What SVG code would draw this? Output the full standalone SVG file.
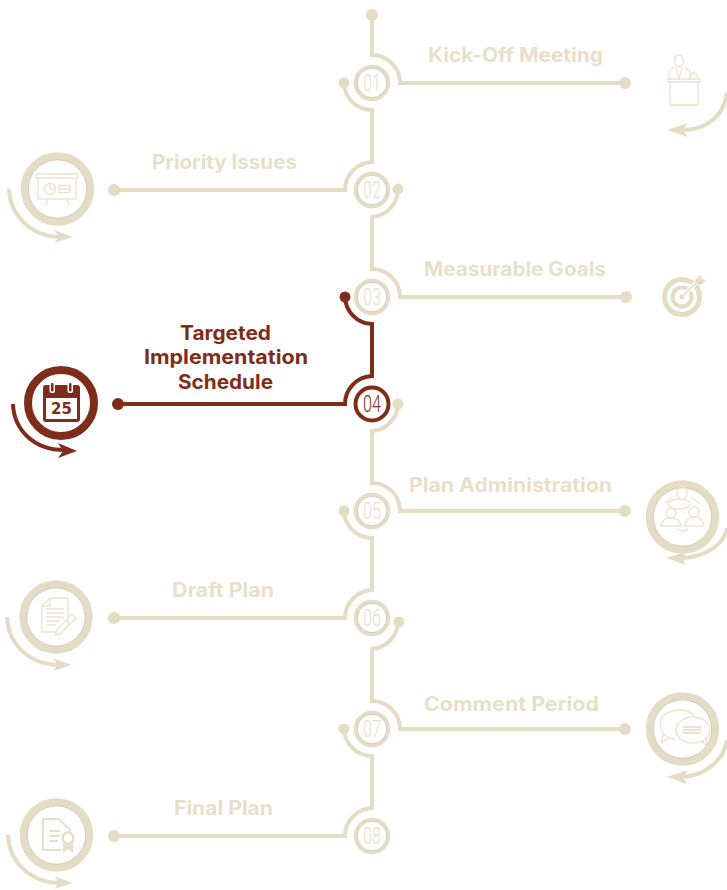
<svg xmlns="http://www.w3.org/2000/svg" width="727" height="890" viewBox="0 0 727 890">
<style>
text{font-family:"Inter","Liberation Sans",sans-serif}
.l{font-size:19.5px;font-weight:700;fill:#e8dfc9;text-anchor:middle}
.ld{font-size:19.5px;font-weight:700;fill:#7d2d1a;text-anchor:middle}
.n{font-family:"Roboto","Liberation Sans",sans-serif;font-size:23px;font-weight:300;fill:#e6ddc8;text-anchor:middle}
.nd{fill:#7d2d1a;font-weight:300}
.w{fill:none;stroke:#e5dcc5;stroke-width:4}
.wd{fill:none;stroke:#7d2d1a;stroke-width:4}
.dot{fill:#e5dcc5}
.dotd{fill:#7d2d1a}
.rg{fill:#fff;stroke:#e5dcc5;stroke-width:3.5}
.rgi{fill:none;stroke:#c2baa8;stroke-width:.7}
.bg{fill:#fff;stroke:#e5dcc5;stroke-width:7.5}
.arr{fill:none;stroke:#e5dcc5;stroke-width:4}
.ic{fill:none;stroke:#ece4d2;stroke-width:1.4}
.icb{fill:none;stroke:#e8dfca;stroke-width:2}
</style>
<g id="connectors">
<path class="w" d="M372 15V55A28 28 0 0 1 400 83H625"/>
<path class="w" d="M344 83A28 28 0 0 0 372 110V162A28 28 0 0 0 345 190H114"/>
<path class="w" d="M398 189A28 28 0 0 1 372 217V269A28 28 0 0 1 400 297H626"/>
<path class="wd" d="M345 297A28 28 0 0 0 372 324V376A28 28 0 0 0 345 404H118"/>
<path class="w" d="M398 404A28 28 0 0 1 372 431V483A28 28 0 0 1 400 511H625"/>
<path class="w" d="M344 511A28 28 0 0 0 372 538V590A28 28 0 0 0 345 618H114"/>
<path class="w" d="M398 622A28 28 0 0 1 372 649V701A28 28 0 0 1 400 729H625"/>
<path class="w" d="M344 729A28 28 0 0 0 372 756V808A28 28 0 0 0 345 836H114"/>
<circle class="dot" cx="372" cy="15" r="6"/>
<circle class="dot" cx="625" cy="83" r="6"/><circle class="dot" cx="344" cy="83" r="5.5"/>
<circle class="dot" cx="114" cy="190" r="6"/><circle class="dot" cx="398" cy="189" r="5.5"/>
<circle class="dot" cx="626" cy="297" r="6"/><circle class="dotd" cx="345" cy="297" r="5.5"/>
<circle class="dotd" cx="118" cy="404" r="6"/><circle class="dot" cx="398" cy="404" r="5.5"/>
<circle class="dot" cx="625" cy="511" r="6"/><circle class="dot" cx="344" cy="511" r="5.5"/>
<circle class="dot" cx="114" cy="618" r="6"/><circle class="dot" cx="399" cy="622" r="5.5"/>
<circle class="dot" cx="625" cy="729" r="6"/><circle class="dot" cx="344" cy="729" r="5.5"/>
<circle class="dot" cx="114" cy="836" r="6"/>
</g>
<g id="step-01">
<circle class="rg" cx="372" cy="83" r="16.500"/><circle class="rgi" cx="372" cy="83" r="14.700"/>
<text class="n" x="372" y="91" textLength="18" lengthAdjust="spacingAndGlyphs">01</text>
<text class="l" x="515.500" y="62" textLength="175" lengthAdjust="spacingAndGlyphs">Kick-Off Meeting</text>
<g class="ic"><ellipse cx="679" cy="61" rx="4.500" ry="6"/><path d="M674 67L669 71V80M684 67L690 71V80M676 68L679 79L682 68M668 79H700V82H668ZM670 82V105H698V82M690 79Q691 72 694 72Q697 74 698 79"/></g>
<path class="arr" d="M727 93C724 115 708 130 682 130"/><path class="dot" d="M667 130L688 123L683 130L688 137Z"/>
</g>
<g id="step-02">
<circle class="rg" cx="372" cy="190" r="16.500"/><circle class="rgi" cx="372" cy="190" r="14.700"/>
<text class="n" x="372" y="198" textLength="18" lengthAdjust="spacingAndGlyphs">02</text>
<text class="l" x="224.500" y="169" textLength="145" lengthAdjust="spacingAndGlyphs">Priority Issues</text>
<circle class="bg" cx="57.500" cy="189" r="33"/><circle class="rgi" cx="57.500" cy="189" r="29.200"/>
<g class="ic"><path d="M36 174H78V178H36ZM38 178V199H76V178M48 199L46 205M67 199L69 205"/><circle cx="50" cy="189" r="5.500"/><path d="M50 189V183.500M50 189H55.500M59 185.500H70V192.500H59ZM59 189H70"/></g>
<path class="arr" d="M9 189C10 215 30 236 60 237"/><path class="dot" d="M73 237L54 230L59 237L54 243Z"/>
</g>
<g id="step-03">
<circle class="rg" cx="372" cy="297" r="16.500"/><circle class="rgi" cx="372" cy="297" r="14.700"/>
<text class="n" x="372" y="305" textLength="18" lengthAdjust="spacingAndGlyphs">03</text>
<text class="l" x="515" y="276" textLength="182" lengthAdjust="spacingAndGlyphs">Measurable Goals</text>
<circle cx="682" cy="297" r="17.500" fill="none" stroke="#e5dcc5" stroke-width="5"/>
<circle cx="682" cy="297" r="9.500" fill="none" stroke="#e5dcc5" stroke-width="4"/>
<circle cx="682" cy="297" r="2.500" fill="#e5dcc5"/>
<path d="M683 296L698 281" stroke="#fff" stroke-width="4" fill="none"/>
<path d="M683 296L698 281" stroke="#e5dcc5" stroke-width="1.500" fill="none"/>
<path class="dot" d="M695 280L700 275L702 279L706 280L701 285L696 284Z"/>
</g>
<g id="step-04">
<circle cx="372" cy="404" r="16.500" fill="#fff" stroke="#7d2d1a" stroke-width="4"/>
<text class="n nd" x="372" y="412" textLength="18" lengthAdjust="spacingAndGlyphs">04</text>
<text class="ld" x="225.500" y="340" textLength="91" lengthAdjust="spacingAndGlyphs">Targeted</text>
<text class="ld" x="226" y="364" textLength="164" lengthAdjust="spacingAndGlyphs">Implementation</text>
<text class="ld" x="225.500" y="389" textLength="95" lengthAdjust="spacingAndGlyphs">Schedule</text>
<circle cx="61" cy="403" r="33" fill="#fff" stroke="#7d2d1a" stroke-width="8"/>
<rect x="43" y="385" width="37" height="37" rx="3" fill="#7d2d1a"/>
<rect x="46" y="398" width="31" height="21" fill="#fff"/>
<rect x="49.500" y="382" width="5.500" height="11" rx="2" fill="#fff"/><rect x="67.500" y="382" width="5.500" height="11" rx="2" fill="#fff"/>
<rect x="51" y="383" width="2.500" height="8.500" rx="1" fill="#7d2d1a"/><rect x="69" y="383" width="2.500" height="8.500" rx="1" fill="#7d2d1a"/>
<text x="61.500" y="414" font-size="15" font-weight="700" fill="#7d2d1a" text-anchor="middle" style="font-family:'DejaVu Sans',sans-serif">25</text>
<path fill="none" stroke="#7d2d1a" stroke-width="4" d="M13 404C14 430 34 450 64 450"/><path class="dotd" d="M77 451L58 443L63 451L58 458Z"/>
</g>
<g id="step-05">
<circle class="rg" cx="372" cy="511" r="16.500"/><circle class="rgi" cx="372" cy="511" r="14.700"/>
<text class="n" x="372" y="519" textLength="18" lengthAdjust="spacingAndGlyphs">05</text>
<text class="l" x="510.500" y="492" textLength="203" lengthAdjust="spacingAndGlyphs">Plan Administration</text>
<circle class="bg" cx="682.500" cy="517" r="33"/><circle class="rgi" cx="682.500" cy="517" r="29.200"/>
<g class="ic"><ellipse cx="682" cy="493" rx="5" ry="7"/><ellipse cx="679" cy="504" rx="11" ry="5"/><circle cx="671" cy="513" r="5"/><circle cx="694" cy="512" r="5"/><path d="M661 526Q662 518 671 518Q680 518 681 526ZM685 526Q686 517 694 517Q703 517 704 526ZM665 503L672 497M699 503L691 497M677 529Q683 533 688 529"/></g>
<path class="arr" d="M727 528C724 545 705 557 682 558"/><path class="dot" d="M666 558L687 551L682 558L686 565Z"/>
</g>
<g id="step-06">
<circle class="rg" cx="372" cy="618" r="16.500"/><circle class="rgi" cx="372" cy="618" r="14.700"/>
<text class="n" x="372" y="626" textLength="18" lengthAdjust="spacingAndGlyphs">06</text>
<text class="l" x="223" y="597" textLength="102" lengthAdjust="spacingAndGlyphs">Draft Plan</text>
<circle class="bg" cx="56" cy="617" r="33"/><circle class="rgi" cx="56" cy="617" r="29.200"/>
<g class="ic"><path d="M50 598H68V625M50 598L42 606V632H58M42 606H50V598M46 609H64M46 613H64M46 617H64M46 621H60M46 625H56M56 631L72 614L76 618L60 634L55 635Z"/></g>
<path class="arr" d="M7 617C8 643 28 664 58 665"/><path class="dot" d="M72 665L53 658L58 665L53 671Z"/>
</g>
<g id="step-07">
<circle class="rg" cx="372" cy="729" r="16.500"/><circle class="rgi" cx="372" cy="729" r="14.700"/>
<text class="n" x="372" y="737" textLength="18" lengthAdjust="spacingAndGlyphs">07</text>
<text class="l" x="511.500" y="711" textLength="175" lengthAdjust="spacingAndGlyphs">Comment Period</text>
<circle class="bg" cx="682.500" cy="729" r="33"/><circle class="rgi" cx="682.500" cy="729" r="29.200"/>
<g class="ic"><path d="M676 739C665 740 660 730 660 723C660 715 670 710 680 710C686 710 691 712 694 716M663 734L662 742L670 738"/><ellipse cx="693" cy="730" rx="17" ry="13" fill="#fff"/><path d="M702 741L706 746L707 736"/></g>
<path d="M683 727H701M683 730H701M683 733H701" stroke="#ebe3d1" stroke-width="2" fill="none"/>
<path class="arr" d="M727 740C724 760 705 776 682 777"/><path class="dot" d="M667 777L688 770L683 777L687 784Z"/>
</g>
<g id="step-08">
<circle class="rg" cx="372" cy="836" r="16.500"/><circle class="rgi" cx="372" cy="836" r="14.700"/>
<text class="n" x="372" y="844" textLength="18" lengthAdjust="spacingAndGlyphs">08</text>
<text class="l" x="223.500" y="815" textLength="99" lengthAdjust="spacingAndGlyphs">Final Plan</text>
<circle class="bg" cx="56.500" cy="835" r="33"/><circle class="rgi" cx="56.500" cy="835" r="29.200"/>
<path class="icb" d="M43 819H59L70 830V834M43 819V850H62"/>
<path class="icb" d="M49 831H60M49 836H60M49 841H58"/>
<circle cx="68" cy="838" r="5.500" fill="none" stroke="#e8dfca" stroke-width="2.500"/>
<path d="M63 843H73V853L68 849L63 853Z" fill="#e8dfca"/>
<path class="arr" d="M8 835C9 861 29 882 59 883"/><path class="dot" d="M73 883L54 876L59 883L54 889Z"/>
</g>
</svg>
